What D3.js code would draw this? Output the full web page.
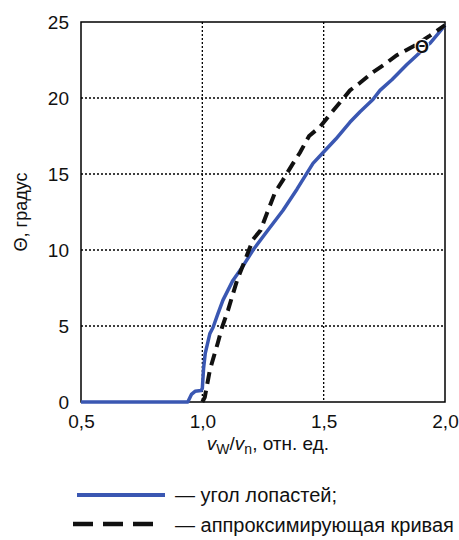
<!DOCTYPE html>
<html><head><meta charset="utf-8">
<script src="https://cdn.jsdelivr.net/npm/d3@7"></script>
<style>body{margin:0;background:#fff}svg{display:block}text{font-family:"Liberation Sans",Arial,sans-serif;fill:#111}</style>
</head><body><svg id="c" width="459" height="540"></svg>
<script>
const xTicks=[0.5,1.0,1.5,2.0];
const xTickLabels=["0,5","1,0","1,5","2,0"];
const yTicks=[0,5,10,15,20,25];
const bladeX=[0.5,0.94,0.955,0.97,0.995,1.0,1.005,1.012,1.031,1.044,1.064,1.085,1.126,1.17,1.209,1.27,1.332,1.39,1.456,1.497,1.55,1.608,1.65,1.703,1.732,1.781,1.843,1.89,1.938,1.97,2.0];
const bladeY=[0,0,0.5,0.7,0.75,0.9,2.2,3.2,4.5,4.9,5.8,6.7,8.0,9.0,10.0,11.3,12.6,14.0,15.7,16.4,17.3,18.4,19.1,19.9,20.5,21.2,22.2,22.9,23.6,24.2,24.8];
const approxX=[1.0,1.01,1.031,1.064,1.081,1.106,1.143,1.18,1.209,1.24,1.266,1.3,1.332,1.37,1.402,1.44,1.485,1.53,1.567,1.608,1.65,1.703,1.75,1.80,1.87,1.938,2.0];
const approxY=[0,0.3,2.1,3.9,4.9,6.05,8.0,9.5,10.7,11.3,12.4,13.8,14.6,15.6,16.4,17.5,18.1,19.0,19.7,20.5,21.0,21.7,22.2,22.8,23.4,24.1,24.8];

const svg=d3.select("#c");
const L=81,R=445,T=22,B=402;
const x=d3.scaleLinear().domain([0.5,2.0]).range([L,R]);
const y=d3.scaleLinear().domain([0,25]).range([B,T]);

// grid
const g=svg.append("g");
g.selectAll("line.vx").data(xTicks.slice(1,-1)).enter().append("line")
 .attr("x1",d=>x(d)).attr("x2",d=>x(d)).attr("y1",T).attr("y2",B)
 .attr("stroke","#000").attr("stroke-width",1.3).attr("stroke-dasharray","2,2");
g.selectAll("line.hy").data(yTicks.slice(1,-1)).enter().append("line")
 .attr("y1",d=>y(d)).attr("y2",d=>y(d)).attr("x1",L).attr("x2",R)
 .attr("stroke","#000").attr("stroke-width",1.3).attr("stroke-dasharray","2,2");

// frame
svg.append("rect").attr("x",L).attr("y",T).attr("width",R-L).attr("height",B-T)
 .attr("fill","none").attr("stroke","#000").attr("stroke-width",1.5);

// axes (labels only)
const xAxis=d3.axisBottom(x).tickValues(xTicks).tickFormat((d,i)=>xTickLabels[i]).tickSize(0).tickPadding(13);
const ax=svg.append("g").attr("transform",`translate(0,${B})`).call(xAxis);
ax.select(".domain").remove();
ax.selectAll("text").style("font-size","19px").attr("fill","#111").style("font-family","Liberation Sans, Arial, sans-serif");
const yAxis=d3.axisLeft(y).tickValues(yTicks).tickFormat(d3.format("d")).tickSize(0).tickPadding(12);
const ay=svg.append("g").attr("transform",`translate(${L},0)`).call(yAxis);
ay.select(".domain").remove();
ay.selectAll("text").style("font-size","19px").attr("fill","#111").style("font-family","Liberation Sans, Arial, sans-serif");

// lines
const line=d3.line().x(d=>x(d[0])).y(d=>y(d[1]));
svg.append("path").datum(bladeX.map((v,i)=>[v,bladeY[i]])).attr("d",line)
 .attr("fill","none").attr("stroke","#3a57b2").attr("stroke-width",3.5).attr("stroke-linejoin","round");
svg.append("path").datum(approxX.map((v,i)=>[v,approxY[i]])).attr("d",line)
 .attr("fill","none").attr("stroke","#111").attr("stroke-width",4).attr("stroke-dasharray","12,7");

// Θ marker (circled)
svg.append("circle").attr("cx",422).attr("cy",46).attr("r",7.5).attr("fill","#fff").attr("stroke","none");
svg.append("text").attr("x",422).attr("y",52.5).attr("text-anchor","middle")
 .style("font-size","18px").style("font-weight","bold").text("Θ");

// axis titles
svg.append("text").attr("transform",`translate(27,212) rotate(-90)`).attr("text-anchor","middle")
 .style("font-size","18px").text("Θ, градус");
const xt=svg.append("text").attr("x",268).attr("y",450).attr("text-anchor","middle").style("font-size","19px");
xt.append("tspan").style("font-style","italic").text("v");
xt.append("tspan").attr("dy",4).style("font-size","14px").text("W");
xt.append("tspan").attr("dy",-4).text("/");
xt.append("tspan").style("font-style","italic").text("v");
xt.append("tspan").attr("dy",4).style("font-size","14px").text("n");
xt.append("tspan").attr("dy",-4).text(", отн. ед.");

// legend
svg.append("line").attr("x1",77).attr("x2",165).attr("y1",495).attr("y2",495)
 .attr("stroke","#3a57b2").attr("stroke-width",4);
svg.append("text").attr("x",175).attr("y",502).style("font-size","20px").text("— угол лопастей;");
svg.append("line").attr("x1",73).attr("x2",153).attr("y1",524).attr("y2",524)
 .attr("stroke","#111").attr("stroke-width",4.5).attr("stroke-dasharray","20,10");
svg.append("text").attr("x",175).attr("y",532).style("font-size","20px").text("— аппроксимирующая кривая");
</script></body></html>
